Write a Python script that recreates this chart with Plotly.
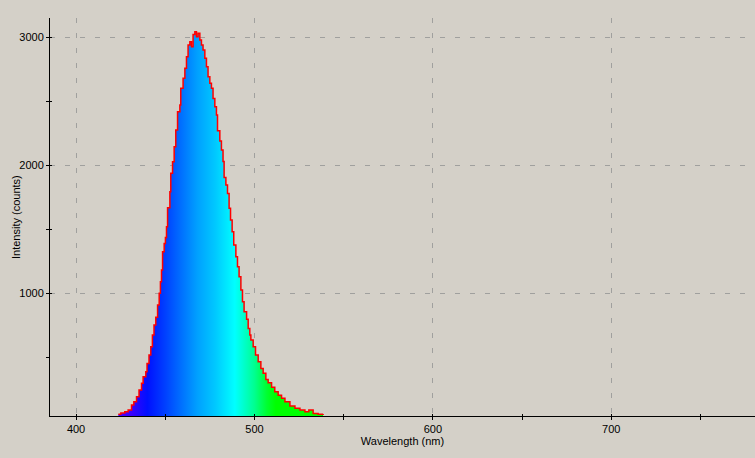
import plotly.graph_objects as go

# Spectrum
wavelength_nm = [423.7, 425.1, 427.3, 429.2, 431.1, 432.4, 433.9, 435.3, 436.7, 437.6,
                 439.1, 439.8, 440.9, 441.9, 442.8, 443.7, 444.7, 445.7, 446.6, 447.3,
                 447.9, 448.5, 449.4, 450.1, 450.7, 451.3, 452.6, 453.1, 454.1, 455.0,
                 455.9, 456.9, 458.2, 458.7, 460.0, 461.0, 461.9, 462.8, 463.8, 464.7,
                 465.6, 466.6, 467.5, 468.4, 469.4, 470.3, 471.2, 472.2, 473.1, 474.0,
                 475.0, 475.9, 476.8, 477.8, 478.7, 479.3, 480.6, 481.5, 482.4, 483.0,
                 484.0, 484.9, 485.8, 486.6, 487.5, 488.4, 489.6, 490.5, 491.4, 492.4,
                 493.3, 494.2, 495.6, 496.5, 497.4, 498.0, 499.3, 500.6, 502.1, 503.6,
                 504.9, 506.4, 507.7, 509.6, 511.4, 513.3, 515.2, 517.1, 519.9, 522.7,
                 525.5, 528.3, 530.5, 532.9, 535.7, 538.5]
intensity_counts = [55, 65, 75, 88, 127, 153, 192, 245, 297, 348,
                    387, 453, 518, 583, 674, 752, 813, 909, 1000, 1091,
                    1182, 1325, 1390, 1436, 1520, 1669, 1794, 1938, 2028, 2145,
                    2276, 2419, 2471, 2602, 2680, 2758, 2848, 2940, 2966, 2927,
                    3023, 3044, 3005, 3031, 2979, 2940, 2901, 2836, 2771, 2692,
                    2641, 2602, 2523, 2458, 2393, 2270, 2190, 2120, 2030, 1905,
                    1846, 1781, 1664, 1573, 1481, 1377, 1286, 1208, 1130, 1026,
                    935, 856, 797, 726, 674, 635, 583, 518, 466, 414,
                    375, 328, 302, 266, 231, 205, 180, 153, 120, 102,
                    88, 75, 88, 62, 55, 57]

x_range = [385.4, 780.6]
y_range = [42, 3151]
x_ticks_all = [400, 450, 500, 550, 600, 650, 700, 750]
y_ticks_all = [1000, 1500, 2000, 2500, 3000]
x_title = "Wavelength (nm)"
y_title = "Intensity (counts)"

# spectral colours along the wavelength axis
spectrum_stops = [420, 431, 440, 450, 459, 468, 478, 489, 500, 507, 512, 540]
spectrum_colors = ["#5000FF", "#3A00FF", "#0010FF", "#0040FF", "#0070FF", "#00A0FF",
                   "#00C8FF", "#00FFFF", "#00FF90", "#00FF30", "#00FF00", "#00FF00"]

g0, g1 = spectrum_stops[0], spectrum_stops[-1]
colorscale = [[(w - g0) / (g1 - g0), c] for w, c in zip(spectrum_stops, spectrum_colors)]

BG = "#D4D0C8"
GRID = "#A0A09E"
FONT = dict(family="Liberation Sans, Arial, sans-serif", size=11, color="black")

fig = go.Figure()
fig.add_trace(go.Scatter(
    x=wavelength_nm, y=intensity_counts, mode="lines",
    line=dict(color="#FF0000", width=1.5, shape="hv"),
    fill="tozeroy",
    fillgradient=dict(type="horizontal", colorscale=colorscale, start=g0, stop=g1),
    hoverinfo="skip", showlegend=False,
))
# helper (empty) trace for the inner half of the crossing ticks
fig.add_trace(go.Scatter(x=[], y=[], xaxis="x2", yaxis="y2", showlegend=False))

fig.update_layout(
    width=755, height=458,
    paper_bgcolor=BG, plot_bgcolor=BG,
    margin=dict(l=50, r=0, t=18, b=42, autoexpand=False),
    font=FONT,
    showlegend=False,
    xaxis=dict(
        range=x_range, tick0=0, dtick=100, ticks="outside", ticklen=3,
        tickcolor="black", showline=True, linecolor="black", linewidth=1,
        showgrid=True, gridcolor=GRID, griddash="5px,10px", gridwidth=1,
        zeroline=False, layer="above traces",
        minor=dict(dtick=50, tick0=0, ticks="outside", ticklen=3, tickcolor="black", showgrid=False),
        title=dict(text=x_title, standoff=3, font=FONT),
        tickfont=FONT, automargin=False,
    ),
    yaxis=dict(
        range=y_range, tick0=0, dtick=1000, ticks="outside", ticklen=3,
        tickcolor="black", showline=True, linecolor="black", linewidth=1,
        showgrid=True, gridcolor=GRID, griddash="5px,10px", gridwidth=1,
        zeroline=False, layer="above traces",
        minor=dict(dtick=500, tick0=0, ticks="outside", ticklen=3, tickcolor="black", showgrid=False),
        tickfont=FONT, automargin=False,
    ),
    xaxis2=dict(
        range=x_range, overlaying="x", anchor="y", side="bottom",
        tickvals=x_ticks_all, ticks="inside", ticklen=2, tickcolor="black",
        showticklabels=False, showgrid=False, zeroline=False, showline=False,
        layer="above traces",
    ),
    yaxis2=dict(
        range=y_range, overlaying="y", anchor="x", side="left",
        tickvals=y_ticks_all, ticks="inside", ticklen=2, tickcolor="black",
        showticklabels=False, showgrid=False, zeroline=False, showline=False,
        layer="above traces",
    ),
    annotations=[dict(
        text=y_title, textangle=-90, xref="paper", yref="paper",
        x=0, y=0.5, xanchor="center", yanchor="middle", xshift=-34,
        showarrow=False, font=FONT,
    )],
)

fig.write_html(
    "out.html",
    config={"displayModeBar": False, "staticPlot": True},
    post_script="document.body.style.margin='0';document.body.style.overflow='hidden';",
)
